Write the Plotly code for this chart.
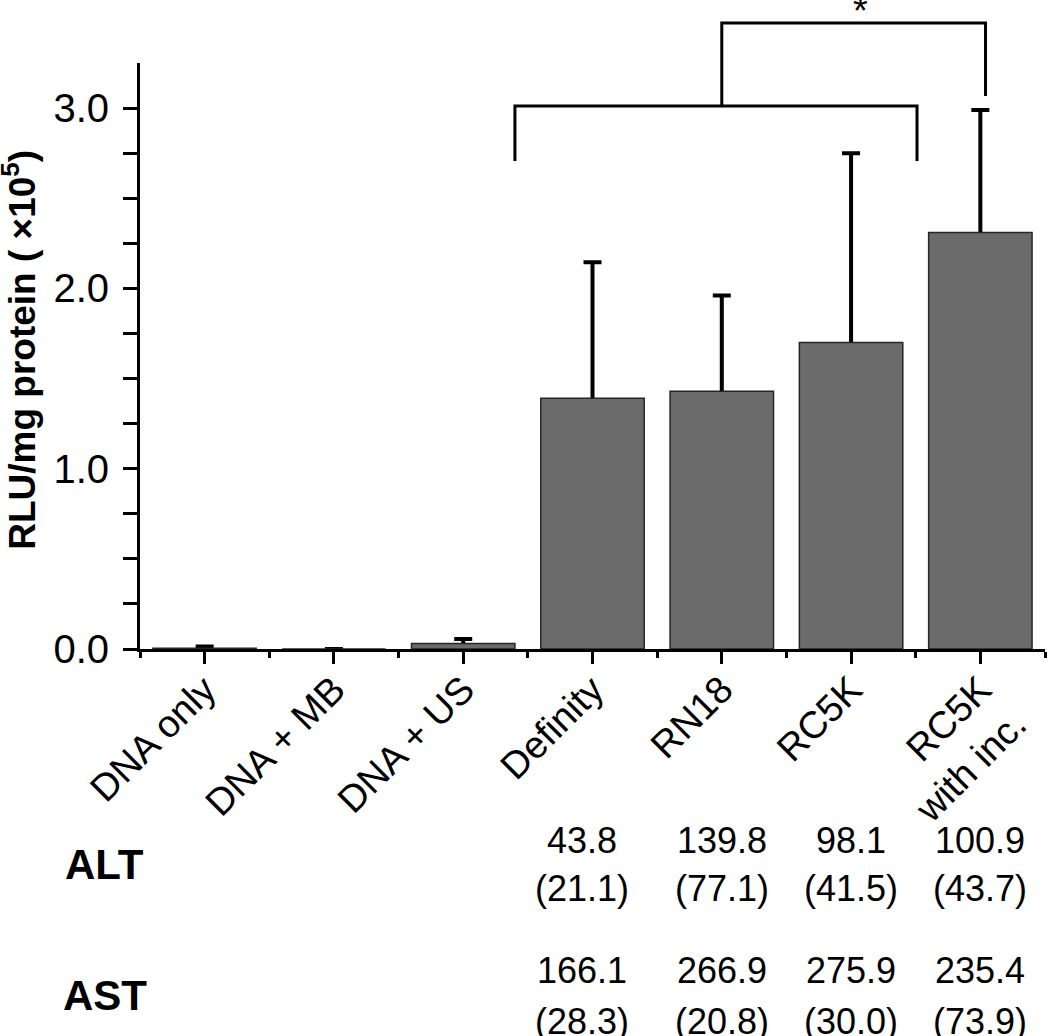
import plotly.graph_objects as go

# luciferase expression, RLU/mg protein (x10^5); error bars are +SD only
CATEGORIES = ["DNA only", "DNA + MB", "DNA + US", "Definity", "RN18", "RC5K", "RC5K<br>with inc."]
RLU_MEAN = [0.004, 0.0, 0.03, 1.39, 1.43, 1.70, 2.31]
RLU_SD = [0.01, 0.0, 0.025, 0.755, 0.53, 1.05, 0.68]

# liver enzymes shown under the microbubble groups: mean (SD)
TABLE_COLS = [2.92, 4, 5, 6]  # column centres, in category-index units
ALT_MEAN = [43.8, 139.8, 98.1, 100.9]
ALT_SD = [21.1, 77.1, 41.5, 43.7]
AST_MEAN = [166.1, 266.9, 275.9, 235.4]
AST_SD = [28.3, 20.8, 30.0, 73.9]

Y_MAX = 3.25
FONT = "Liberation Sans, Arial, sans-serif"

# significance brackets in (category index, y value) units
LOWER_BRACKET = dict(x0=2.40, x1=5.51, top=3.012, left_leg=2.707, right_leg=2.707)
UPPER_BRACKET = dict(x0=4.0, x1=6.04, top=3.472, left_leg=3.012, right_leg=3.067)


def py(v):
    # y value -> paper fraction, so the brackets can sit above the axis top
    return v / Y_MAX


def bracket_path(b):
    return (f"M {b['x0']},{py(b['left_leg'])} L {b['x0']},{py(b['top'])} "
            f"L {b['x1']},{py(b['top'])} L {b['x1']},{py(b['right_leg'])}")


xs = list(range(len(CATEGORIES)))

fig = go.Figure()
# invisible carrier for the error bars: the shoe sits at the baseline and the
# visible bars drawn on top hide it, leaving only the upper whisker + cap
fig.add_trace(go.Bar(
    x=xs, y=RLU_MEAN, width=0.8,
    marker=dict(color="rgba(0,0,0,0)", line=dict(width=0)),
    error_y=dict(type="data", symmetric=False, array=RLU_SD, arrayminus=RLU_MEAN,
                 thickness=4, width=9, color="black"),
    hoverinfo="skip",
))
fig.add_trace(go.Bar(
    x=xs, y=RLU_MEAN, width=0.8,
    marker=dict(color="#6b6b6b", line=dict(color="#262626", width=1.5)),
))

annotations = [
    dict(text="<b>RLU/mg protein ( ×10<sup>5</sup>)</b>", textangle=-90,
         xref="paper", yref="paper", x=-0.133, y=0.51,
         xanchor="center", yanchor="middle", showarrow=False,
         font=dict(size=37, color="black")),
    dict(text="*", xref="x", yref="paper", x=5.07, y=py(3.54),
         xanchor="center", yanchor="middle", showarrow=False,
         font=dict(size=38, color="black")),
    dict(text="<b>ALT</b>", xref="paper", yref="paper", x=-0.0387, y=-0.3686,
         xanchor="center", yanchor="middle", showarrow=False,
         font=dict(size=42, color="black")),
    dict(text="<b>AST</b>", xref="paper", yref="paper", x=-0.0387, y=-0.592,
         xanchor="center", yanchor="middle", showarrow=False,
         font=dict(size=42, color="black")),
]
rows = [(ALT_MEAN, -0.326), (ALT_SD, -0.408), (AST_MEAN, -0.549), (AST_SD, -0.635)]
for k, (vals, yy) in enumerate(rows):
    for cx, v in zip(TABLE_COLS, vals):
        txt = f"{v:.1f}" if k % 2 == 0 else f"({v:.1f})"
        annotations.append(dict(text=txt, xref="x", yref="paper", x=cx, y=yy,
                                xanchor="center", yanchor="middle", showarrow=False,
                                font=dict(size=36, color="black")))

shapes = [
    dict(type="path", path=bracket_path(b), xref="x", yref="paper",
         line=dict(color="black", width=3))
    for b in (LOWER_BRACKET, UPPER_BRACKET)
]

major_y = [0, 1, 2, 3]
minor_y = [v / 4 for v in range(1, 12) if v % 4]

fig.update_layout(
    width=1050, height=1036,
    margin=dict(l=140, r=5, t=63, b=387),
    paper_bgcolor="white", plot_bgcolor="white",
    barmode="overlay", showlegend=False,
    font=dict(family=FONT, color="black"),
    annotations=annotations, shapes=shapes,
    xaxis=dict(
        range=[-0.5, 6.5], tickmode="array", tickvals=xs, ticktext=CATEGORIES,
        tickangle=-45, tickfont=dict(size=38), ticklabelstandoff=-12,
        showline=True, linecolor="black", linewidth=3,
        ticks="outside", ticklen=12, tickwidth=3, tickcolor="black",
        showgrid=False, zeroline=False,
        minor=dict(tickmode="array", tickvals=[x + 0.5 for x in range(-1, 7)],
                   ticks="outside", ticklen=6, tickwidth=3, tickcolor="black",
                   showgrid=False),
    ),
    yaxis=dict(
        range=[0, Y_MAX], tickmode="array", tickvals=major_y,
        ticktext=[f"{v:.1f}" for v in major_y], tickfont=dict(size=40),
        showline=True, linecolor="black", linewidth=3,
        ticks="outside", ticklen=14, tickwidth=3, tickcolor="black",
        ticklabelstandoff=6,
        showgrid=False, zeroline=False,
        minor=dict(tickmode="array", tickvals=minor_y,
                   ticks="outside", ticklen=14, tickwidth=3, tickcolor="black",
                   showgrid=False),
    ),
)

# the page's default 8px body margin would push the figure off the window
fig.write_html("out.html", config={"displayModeBar": False},
               post_script="document.body.style.margin = '0px';")
